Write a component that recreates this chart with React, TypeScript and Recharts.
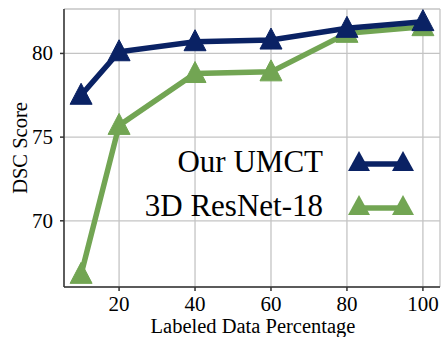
import React from 'react';
import { LineChart, Line, XAxis, YAxis, CartesianGrid } from 'recharts';

document.body.style.margin = '0';

const percentages = [10, 20, 40, 60, 80, 100];
const umct = [77.5, 80.1, 80.7, 80.8, 81.5, 81.9];
const resnet = [66.8, 75.7, 78.8, 78.9, 81.2, 81.6];
const xTicks = [20, 40, 60, 80, 100];
const yTicks = [70, 75, 80];

const seriesNames = ['Our UMCT', '3D ResNet-18'];
const BLUE = '#0a2264';
const GREEN = '#72a553';
const FONT = 'Liberation Serif';

const data = percentages.map((p, i) => ({ p, umct: umct[i], resnet: resnet[i] }));

const Triangle = (color: string) => (props: any) => {
  const { cx, cy } = props;
  if (cx == null || cy == null) return null;
  return (
    <polygon
      points={`${cx},${cy - 12} ${cx - 11},${cy + 9} ${cx + 11},${cy + 9}`}
      fill={color}
      stroke={color}
      strokeWidth={1}
    />
  );
};

const renderXTick = (props: any) => {
  const { x, y, payload } = props;
  return (
    <text x={x} y={y + 18} textAnchor="middle" fontFamily={FONT} fontSize={21} fill="#000">
      {payload.value}
    </text>
  );
};

const renderYTick = (props: any) => {
  const { x, y, payload } = props;
  return (
    <text x={x - 1} y={y + 7} textAnchor="end" fontFamily={FONT} fontSize={21} fill="#000">
      {payload.value}
    </text>
  );
};

function LegendOverlay() {
  const rows = [
    { name: seriesNames[0], color: BLUE, y: 164 },
    { name: seriesNames[1], color: GREEN, y: 208 },
  ];
  return (
    <svg width={441} height={337} style={{ position: 'absolute', left: 0, top: 0, pointerEvents: 'none' }}>
      <text x={253} y={333} textAnchor="middle" fontFamily={FONT} fontSize={20.5} fill="#000">
        Labeled Data Percentage
      </text>
      <text x={27} y={148} transform="rotate(-90, 27, 148)" textAnchor="middle" fontFamily={FONT} fontSize={20.5} fill="#000">
        DSC Score
      </text>
      {rows.map((r) => (
        <g key={r.name}>
          <text x={323} y={r.y + 8} textAnchor="end" fontFamily={FONT} fontSize={31} fill="#000">
            {r.name}
          </text>
          <line x1={359} x2={403} y1={r.y} y2={r.y} stroke={r.color} strokeWidth={5.5} />
          <polygon points={`359,${r.y - 13} 348,${r.y + 7} 370,${r.y + 7}`} fill={r.color} />
          <polygon points={`403,${r.y - 13} 392,${r.y + 7} 414,${r.y + 7}`} fill={r.color} />
        </g>
      ))}
    </svg>
  );
}

export default function App() {
  return (
    <div style={{ position: 'relative', width: 441, height: 337, fontFamily: FONT }}>
      <LineChart width={441} height={337} data={data} margin={{ top: 9, right: 1, left: 0, bottom: 0 }}>
        <CartesianGrid stroke="#c4c4c4" strokeWidth={1.3} />
        <XAxis
          dataKey="p"
          type="number"
          domain={[5.5, 104.5]}
          ticks={xTicks}
          allowDataOverflow
          height={50}
          tick={renderXTick}
          tickSize={4}
          stroke="#333"
          strokeWidth={1.5}
        />
        <XAxis xAxisId="top" orientation="top" dataKey="p" type="number" domain={[5.5, 104.5]} height={0} tick={false} tickLine={false} stroke="#333" strokeWidth={1.5} />
        <YAxis
          type="number"
          domain={[66.045, 82.655]}
          ticks={yTicks}
          allowDataOverflow
          width={64}
          tick={renderYTick}
          tickSize={4}
          tickMargin={6}
          stroke="#333"
          strokeWidth={1.5}
        />
        <YAxis yAxisId="right" orientation="right" domain={[66.045, 82.655]} width={0} tick={false} tickLine={false} stroke="#333" strokeWidth={1.5} />
        <Line dataKey="resnet" name={seriesNames[1]} stroke={GREEN} strokeWidth={5.5} dot={Triangle(GREEN)} activeDot={false} isAnimationActive={false} />
        <Line dataKey="umct" name={seriesNames[0]} stroke={BLUE} strokeWidth={5.5} dot={Triangle(BLUE)} activeDot={false} isAnimationActive={false} />
      </LineChart>
      <LegendOverlay />
    </div>
  );
}
